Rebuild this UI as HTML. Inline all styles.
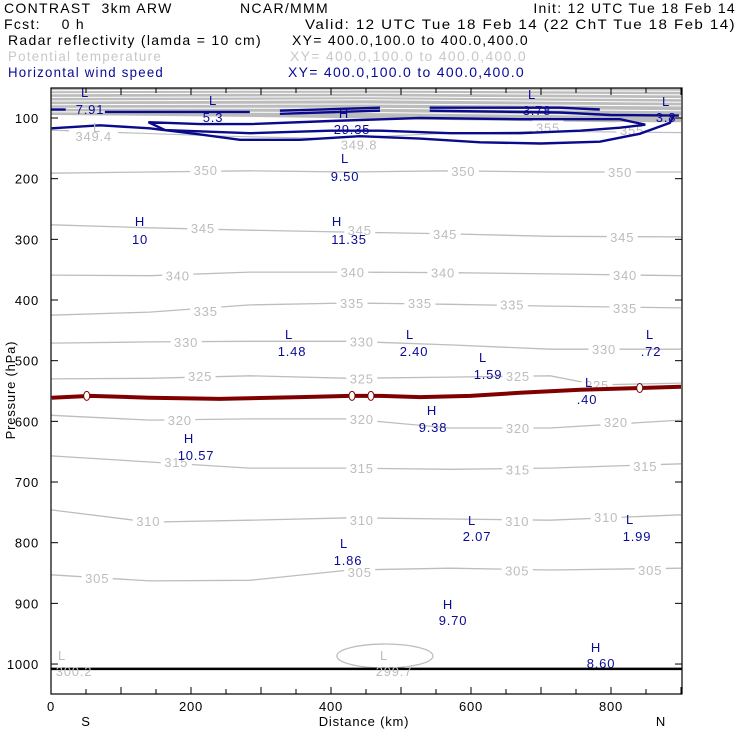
<!DOCTYPE html>
<html><head><meta charset="utf-8"><style>
html,body{margin:0;padding:0;background:#fff}
svg{display:block}
text{font-family:"Liberation Sans",sans-serif;font-size:13px;letter-spacing:0.8px}
.hd text{font-size:14px;letter-spacing:1.3px}
</style></head><body>
<svg id="c" width="740" height="740" viewBox="0 0 740 740">
<g class="hd">
<text x="4" y="13" fill="#000" xml:space="preserve">CONTRAST  3km ARW</text>
<text x="240" y="13" fill="#000">NCAR/MMM</text>
<text x="736" y="13" text-anchor="end" fill="#000">Init: 12 UTC Tue 18 Feb 14</text>
<text x="4" y="29" fill="#000" xml:space="preserve">Fcst:    0 h</text>
<text x="305" y="29" fill="#000" textLength="431" lengthAdjust="spacingAndGlyphs">Valid: 12 UTC Tue 18 Feb 14 (22 ChT Tue 18 Feb 14)</text>
<text x="8" y="45" fill="#000" textLength="254" lengthAdjust="spacingAndGlyphs">Radar reflectivity (lamda = 10 cm)</text>
<text x="292" y="45" fill="#000" textLength="237" lengthAdjust="spacingAndGlyphs">XY= 400.0,100.0 to 400.0,400.0</text>
<text x="8" y="61" fill="#c8c8c8" textLength="154" lengthAdjust="spacingAndGlyphs">Potential temperature</text>
<text x="290" y="61" fill="#c8c8c8" textLength="237" lengthAdjust="spacingAndGlyphs">XY= 400.0,100.0 to 400.0,400.0</text>
<text x="8" y="77" fill="#0a0a96" textLength="156" lengthAdjust="spacingAndGlyphs">Horizontal wind speed</text>
<text x="288" y="77" fill="#0a0a96" textLength="237" lengthAdjust="spacingAndGlyphs">XY= 400.0,100.0 to 400.0,400.0</text>
</g>
<g id="plot"></g>
</svg>
<script>
const X0=51,X1=682,Y0=88,Y1=694;
const KM_MAX=(X1-X0)/0.7, P_TOP=100-(118-Y0)/0.6067, P_BOT=100+(Y1-118)/0.6067;
function sx(km){return X0+km*0.7;}
function sy(p){return 118+(p-100)*0.6067;}

// Potential temperature isentropes: [km, hPa]
const thetaLevels=[305,310,315,320,325,330,335,340,345,350];
const thetaLines=[
[[0,853],[141,863],[284,862],[427,845],[570,842],[713,845],[900,842]],
[[0,746],[141,766],[284,763],[427,759],[570,761],[713,763],[900,754]],
[[0,657],[141,667],[284,677],[427,677],[570,679],[713,677],[900,670]],
[[0,590],[141,598],[284,596],[427,596],[570,611],[713,611],[900,598]],
[[0,530],[141,529],[284,525],[427,529],[570,527],[713,525],[780,540],[900,537]],
[[0,471],[141,469],[284,468],[427,468],[570,474],[713,481],[900,481]],
[[0,425],[141,420],[284,408],[427,405],[570,407],[713,410],[900,413]],
[[0,359],[141,360],[284,354],[427,354],[570,355],[713,357],[900,360]],
[[0,276],[141,281],[284,285],[427,288],[570,291],[713,295],[900,296]],
[[0,191],[141,189],[284,187],[427,189],[570,187],[713,189],[900,189]]
];
const thetaLabels=[
[66,858,"305"],[441,848,"305"],[666,846,"305"],[856,845,"305"],
[139,764,"310"],[444,763,"310"],[666,764,"310"],[793,758,"310"],
[179,667,"315"],[444,677,"315"],[667,679,"315"],[849,674,"315"],
[184,598,"320"],[444,596,"320"],[667,611,"320"],[807,601,"320"],
[213,525,"325"],[444,529,"325"],[667,525,"325"],[780,540,"325"],
[193,469,"330"],[444,468,"330"],[790,481,"330"],
[221,418,"335"],[430,405,"335"],[527,405,"335"],[659,407,"335"],[820,413,"335"],
[181,360,"340"],[431,354,"340"],[560,355,"340"],[820,359,"340"],
[217,281,"345"],[441,285,"345"],[563,291,"345"],[816,296,"345"],
[221,186,"350"],[589,187,"350"],[813,189,"350"],
[710,116,"355"],[830,120,"355"],[61,130,"349.4"],[440,144,"349.8"]
];
const stratBase=[[0,95],[200,97],[400,100],[600,104],[800,107],[900,107]];
const stratLines=[[55,54,56],[60,59,62],[66,65,68],[72,70,74],[78,77,80],[84,84,88],[90,91,97]];

// Wind speed contours
const windOuter=[[1,117],[70,112],[141,117],[213,127],[270,136],[356,136],[441,130],[527,134],[613,140],[699,142],[784,139],[841,126],[884,108],[891,94]];
const windInner=[[139,107],[163,120],[284,125],[399,121],[470,121],[570,125],[670,125],[756,121],[813,116],[849,111],[813,102],[670,102],[527,100],[399,105],[284,110],[213,110],[139,107]];
const windSegs=[
[[0,86],[21,86]],
[[77,90],[284,90]],
[[327,88],[470,83]],
[[327,93],[470,88]],
[[541,83],[727,83],[784,86]],
[[541,88],[727,91],[799,95],[897,96]]
];
const windMarks=[
["L",85,97,"7.91",90,114],["L",213,105,"5.3",213,122],["H",344,118,"29.35",352,134],
["L",532,99,"3.78",537,115],["L",666,106,"3.8",666,122],["L",345,163,"9.50",345,181],
["H",140,226,"10",140,244],["H",337,226,"11.35",349,244],["L",289,339,"1.48",292,356],
["L",410,339,"2.40",414,356],["L",650,339,".72",651,356],["L",483,362,"1.59",488,379],
["L",589,387,".40",587,404],["H",432,415,"9.38",433,432],["H",189,443,"10.57",196,460],
["L",472,525,"2.07",477,541],["L",630,524,"1.99",637,541],["L",344,548,"1.86",348,565],
["H",448,609,"9.70",453,625],["H",596,652,"8.60",601,668]
];
// Radar reflectivity 0 dBZ line [km, hPa]
const radarLine=[[1,561],[56,558],[141,561],[241,563],[356,560],[427,558],[470,558],[527,560],[599,558],[670,553],[756,548],[841,545],[900,543]];
const radarLabels=[[51,558],[430,558],[457,558],[841,545]];
const groundP=1008;
const xTicks=[0,200,400,600,800];
const yTicks=[100,200,300,400,500,600,700,800,900,1000];

const NS="http://www.w3.org/2000/svg";
const g=document.getElementById('plot');
function el(tag,attrs,parent){const e=document.createElementNS(NS,tag);for(const k in attrs)e.setAttribute(k,attrs[k]);(parent||g).appendChild(e);return e;}
function pts(a){return a.map(d=>sx(d[0]).toFixed(1)+","+sy(d[1]).toFixed(1)).join(" ");}
function txt(x,y,s,fill,anchor,parent){const t=el('text',{x:x,y:y,fill:fill,'text-anchor':anchor||'middle'},parent);t.textContent=s;return t;}

const clip=el('clipPath',{id:'cp'});
el('rect',{x:X0,y:Y0,width:X1-X0,height:Y1-Y0},clip);
const inner=el('g',{'clip-path':'url(#cp)'});

const sp=[[0,P_TOP]].concat(stratBase).concat([[900,P_TOP]]);
const strat=el('polygon',{points:pts(sp),fill:'#bcbcbc'},inner);


stratLines.forEach(l=>{
 const w=el('polyline',{points:pts([[0,l[0]],[450,l[1]],[900,l[2]]]),fill:'none',stroke:'#fff','stroke-width':1},inner);
 
 
});

thetaLines.forEach((l,i)=>{
 const pl=el('polyline',{points:pts(l),fill:'none',stroke:'#bdbdbd','stroke-width':1.3},inner);
 
 
});
el('polyline',{points:pts([[0,120],[100,124],[250,130],[400,134],[550,126],[700,122],[900,124]]),fill:'none',stroke:'#bdbdbd','stroke-width':1.2},inner);
const el1=el('ellipse',{cx:sx(477),cy:sy(1000)-8,rx:48,ry:12,fill:'none',stroke:'#bdbdbd','stroke-width':1.3},inner);



thetaLabels.forEach(l=>{
 const x=sx(l[0]),y=sy(l[1]);
 el('rect',{x:x-l[2].length*4.5-2,y:y-8,width:l[2].length*9+4,height:14,fill:'#fff'},inner);
 const t=txt(x,y+5,l[2],'#bdbdbd','middle',inner);
 
 
});

[windOuter,windInner].concat(windSegs).forEach(l=>{
 const pl=el('polyline',{points:pts(l),fill:'none',stroke:'#0a0a8c','stroke-width':2.4},inner);
 
 
});

const rl=el('polyline',{points:pts(radarLine),fill:'none',stroke:'#800000','stroke-width':4},inner);


radarLabels.forEach(k=>{
 const e=el('ellipse',{cx:sx(k[0]),cy:sy(k[1]),rx:3,ry:4.5,fill:'#fff',stroke:'#800000','stroke-width':1},inner);
 
 
});

const gl=el('line',{x1:X0,x2:X1,y1:sy(groundP),y2:sy(groundP),stroke:'#000','stroke-width':2.5},inner);



[[62,660,"L"],[74,676,"300.2"],[384,660,"L"],[394,676,"299.7"],[97,132,"L"]].forEach(m=>{
 const t=txt(m[0],m[1],m[2],'#bdbdbd','middle',inner);
 
 
});
windMarks.forEach(m=>{
 const a=txt(m[1],m[2],m[0],'#0a0a96','middle',inner);
 
 
 const b=txt(m[4],m[5],m[3],'#0a0a96','middle',inner);
 
 
});

const fr=el('rect',{x:X0,y:Y0,width:X1-X0,height:Y1-Y0,fill:'none',stroke:'#000','stroke-width':1.2});


for(let k=0;k<=KM_MAX;k+=50){
 const L=(k%100===0)?7:5;
 el('line',{x1:sx(k),x2:sx(k),y1:Y1,y2:Y1-L,stroke:'#000'});
 el('line',{x1:sx(k),x2:sx(k),y1:Y0,y2:Y0+L,stroke:'#000'});
}
xTicks.forEach(k=>{
 const t=txt(sx(k),711,String(k),'#000');
 
 
});
yTicks.forEach(p=>{
 el('line',{x1:X0,x2:X0+7,y1:sy(p),y2:sy(p),stroke:'#000'});
 el('line',{x1:X1,x2:X1-7,y1:sy(p),y2:sy(p),stroke:'#000'});
 const t=txt(39,sy(p)+5,String(p),'#000','end');
 
 
});
const s1=txt(86,726,"S",'#000');


const xt=txt(364,726,"Distance (km)",'#000');


const n1=txt(661,726,"N",'#000');


const yt=txt(0,0,"Pressure (hPa)",'#000');
yt.setAttribute('transform','translate(15,390) rotate(-90)');


</script>
</body></html>
